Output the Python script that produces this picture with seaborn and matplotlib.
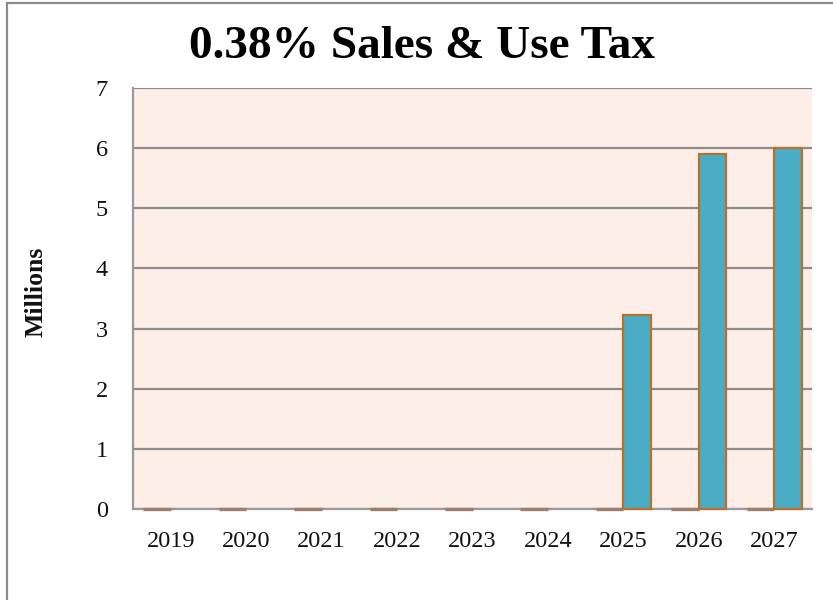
import numpy as np
import pandas as pd
import matplotlib
matplotlib.use("Agg")
import matplotlib.pyplot as plt
import seaborn as sns
from matplotlib.patches import Rectangle

years = ["2019", "2020", "2021", "2022", "2023", "2024", "2025", "2026", "2027"]
base_series = [0, 0, 0, 0, 0, 0, 0, 0, 0]
tax_series = [np.nan, np.nan, np.nan, np.nan, np.nan, np.nan, 3.22, 5.9, 6.0]
series_names = ["Base", "0.38% Tax"]
y_ticks = [0, 1, 2, 3, 4, 5, 6, 7]

df = pd.DataFrame({
    "Year": years * 2,
    "Value": base_series + tax_series,
    "Series": [series_names[0]] * len(years) + [series_names[1]] * len(years),
})

sns.set_theme(style="white")
plt.rcParams["font.family"] = ["Liberation Serif", "DejaVu Serif"]

fig = plt.figure(figsize=(8.33, 6.0), dpi=100)
ax = fig.add_axes([0.1597, 0.1517, 0.8151, 0.7016])
ax.set_facecolor("#FDEEE8")

sns.barplot(data=df, x="Year", y="Value", hue="Series", order=years,
            hue_order=series_names, palette=["#9C7F6C", "#4BACC6"],
            saturation=1, width=0.73, ax=ax, legend=False, zorder=3)

edge_colors = ["#9C7F6C", "#B8702F"]
edge_widths = [2.4, 1.6]
for cont, ec, lw in zip(ax.containers, edge_colors, edge_widths):
    for bar in cont:
        bar.set_edgecolor(ec)
        bar.set_linewidth(lw)
        bar.set_clip_on(False)
        bar.set_zorder(4)

ax.set_ylim(0, 7)
ax.set_yticks(y_ticks)
ax.set_yticklabels([str(t) for t in y_ticks], fontsize=17.5)
ax.tick_params(axis="y", length=0, pad=18)
ax.tick_params(axis="x", length=0, pad=16, labelsize=17.5)
for t in ax.get_xticklabels() + ax.get_yticklabels():
    t.set_color("#111111")

ax.set_axisbelow(True)
ax.yaxis.grid(True, color="#8C8C8C", lw=1.6)
ax.xaxis.grid(False)

for side in ["top", "right"]:
    ax.spines[side].set_visible(False)
for side in ["left", "bottom"]:
    ax.spines[side].set_color("#999999")
    ax.spines[side].set_linewidth(1.6)

ax.set_xlabel("")
ax.set_ylabel("")
fig.text(0.043, 0.513, "Millions", rotation=90, ha="center", va="center",
         fontsize=18.5, fontweight="bold", color="#111111")
fig.text(0.507, 0.922, "0.38% Sales & Use Tax", ha="center", va="center",
         fontsize=34, fontweight="bold", color="#000000")

# outer chart frame
fig.patches.append(Rectangle((7 / 833, -0.05), 1.2, 1.05 - 3 / 600,
                             transform=fig.transFigure, fill=False,
                             edgecolor="#8C8C8C", lw=1.6, zorder=0))

fig.savefig("out.png", dpi=100)
